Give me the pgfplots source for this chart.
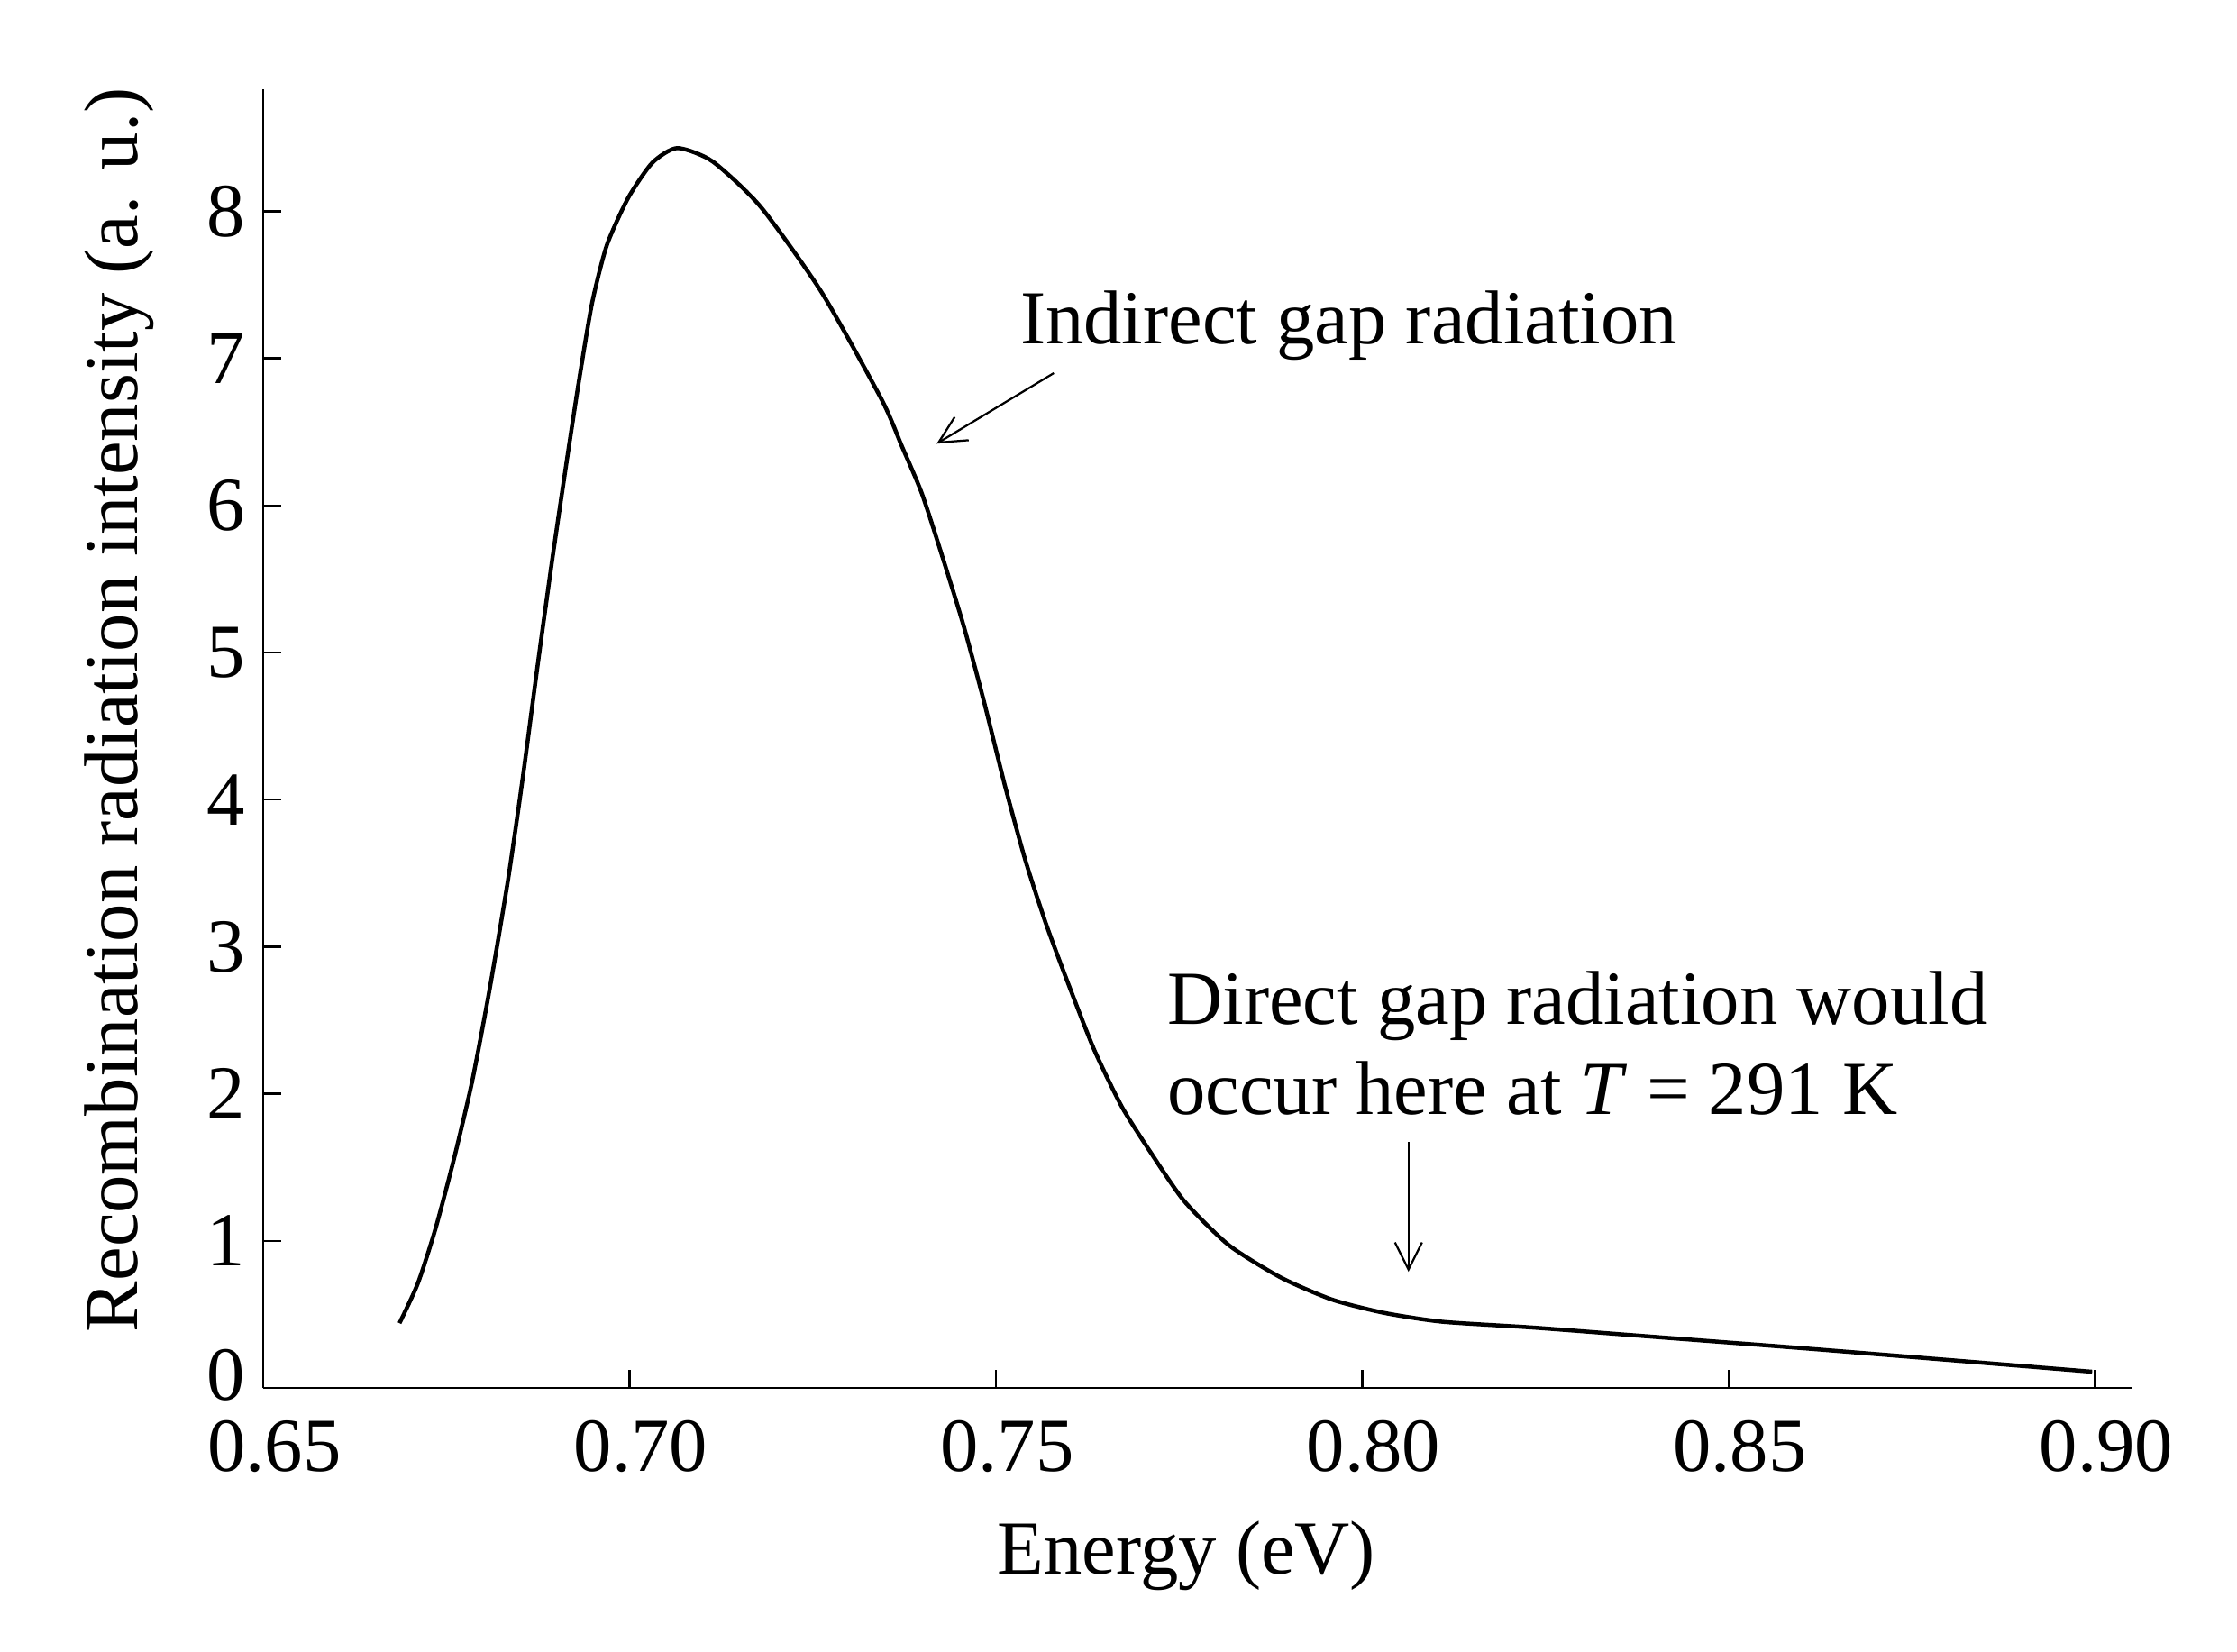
\documentclass[border=0pt]{standalone}
\usepackage{fontspec}
\setmainfont{Liberation Serif}
\usepackage{pgfplots}
\pgfplotsset{compat=1.18}
\usetikzlibrary{arrows.meta}
\begin{document}
\begin{tikzpicture}
\useasboundingbox (-58.4bp,-58.6bp) rectangle (438bp,308bp);
\begin{axis}[
  at={(0,0)}, anchor=south west,
  width=414.8bp, height=288.2bp, scale only axis,
  xmin=0.65, xmax=0.9051, ymin=0, ymax=8.83,
  axis x line=bottom, axis y line=left,
  axis line style={-, line width=0.55bp, black},
  xtick={0.65,0.70,0.75,0.80,0.85,0.90},
  xticklabels={0.65,0.70,0.75,0.80,0.85,0.90},
  ytick={0,1,2,3,4,5,6,7,8},
  yticklabels={\raisebox{6bp}{0},1,2,3,4,5,6,7,8},
  tick align=inside, major tick length=4bp,
  tick style={line width=0.5bp, black},
  /pgf/number format/assume math mode=true,
  font=\fontsize{17}{20}\selectfont,
  xticklabel style={font=\fontsize{17}{20}\selectfont, inner sep=0pt, yshift=-7bp, xshift=2.5bp},
  yticklabel style={font=\fontsize{17}{20}\selectfont, inner sep=0pt, xshift=-3.8bp},
  xlabel={Energy (eV)},
  ylabel={Recombination radiation intensity (a. u.)},
  xlabel style={at={(axis description cs:0.494,0)}, anchor=base, yshift=-41.3bp, font=\fontsize{17}{20}\selectfont},
  ylabel style={at={(axis description cs:0,0.522)}, rotate=0, anchor=base, yshift=27.8bp, font=\fontsize{17}{20}\selectfont},
  clip=false,
]
\addplot[black, line width=0.9bp, smooth, tension=0.4] coordinates {
(0.6686,0.44) (0.6711,0.71) (0.6735,1.08) (0.6760,1.55) (0.6785,2.08)
(0.6809,2.71) (0.6834,3.45) (0.6854,4.14) (0.6875,4.93) (0.6895,5.65)
(0.6916,6.36) (0.6932,6.88) (0.6949,7.38) (0.6969,7.77) (0.6998,8.09)
(0.7031,8.33) (0.7065,8.43) (0.7113,8.34) (0.7179,8.03) (0.7262,7.45)
(0.7344,6.72) (0.7371,6.41) (0.7399,6.08) (0.7427,5.65) (0.7456,5.18)
(0.7484,4.66) (0.7512,4.10) (0.7540,3.59) (0.7568,3.16) (0.7597,2.77)
(0.7634,2.30) (0.7672,1.91) (0.7710,1.61) (0.7757,1.27) (0.7818,0.97)
(0.7889,0.75) (0.7959,0.60) (0.8030,0.51) (0.8109,0.45) (0.8234,0.41)
(0.8391,0.35) (0.8601,0.27) (0.8800,0.19) (0.8996,0.11)
};
\node[anchor=base west, inner sep=0pt, font=\fontsize{17}{20}\selectfont] at (axis cs:0.7532,7.10) {Indirect gap radiation};
\draw[line width=0.45bp, -{Straight Barb[length=6bp,width=6bp]}] (axis cs:0.7579,6.90) -- (axis cs:0.7419,6.42);
\node[anchor=base west, inner sep=0pt, font=\fontsize{17}{20}\selectfont] at (axis cs:0.7733,2.47) {Direct gap radiation would};
\node[anchor=base west, inner sep=0pt, font=\fontsize{17}{20}\selectfont] at (axis cs:0.7733,1.86) {occur here at \textit{T} = 291 K};
\draw[line width=0.45bp, -{Straight Barb[length=6bp,width=6bp]}] (axis cs:0.8063,1.67) -- (axis cs:0.8063,0.79);
\end{axis}
\end{tikzpicture}
\end{document}
